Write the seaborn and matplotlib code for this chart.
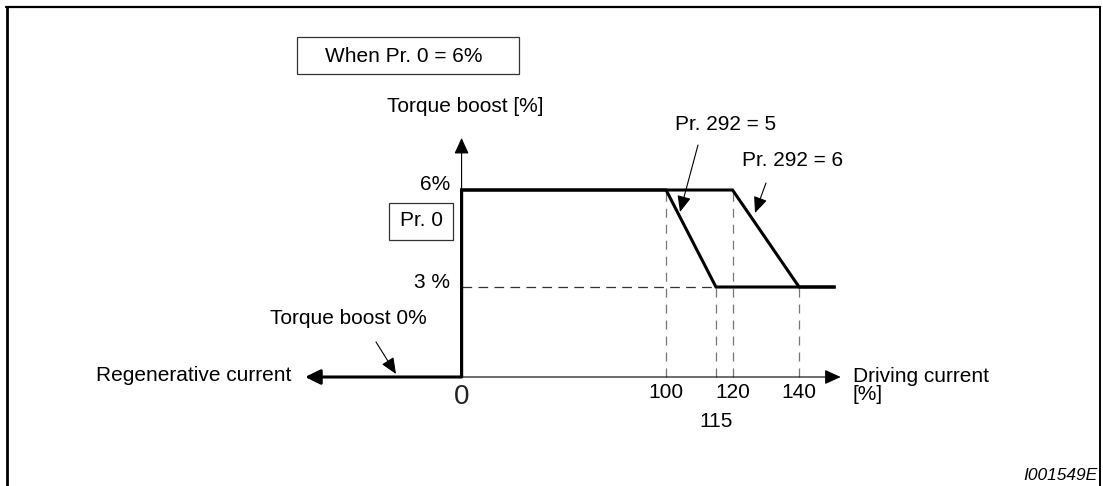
import numpy as np
import pandas as pd
import matplotlib
matplotlib.use("Agg")
import matplotlib.pyplot as plt
import seaborn as sns
from matplotlib.lines import Line2D
from matplotlib.patches import Rectangle

# Torque boost curves (driving current %, torque boost %)
pr292_5_current = [0, 0, 100, 115, 151]
pr292_5_boost = [0, 6, 6, 3, 3]
pr292_6_current = [0, 0, 120, 140, 151]
pr292_6_boost = [0, 6, 6, 3, 3]

# axis ticks / levels
x_ticks = [100, 120, 140]
x_ticks_low = [115]
y_levels = [6, 3]
y_level_labels = ["6%", "3 %"]

W, H = 1103, 486

sns.set_style("white")
plt.rcParams["font.family"] = ["Liberation Sans", "DejaVu Sans"]
plt.rcParams["text.color"] = "black"
plt.rcParams["lines.scale_dashes"] = False


# schematic current axis: 0..100 is squeezed, 100..140 is stretched
def fwd(x):
    x = np.asarray(x, dtype=float)
    return np.where(x < 100, x * 2.045, 204.5 + (x - 100) * 3.325)


def inv(t):
    t = np.asarray(t, dtype=float)
    return np.where(t < 204.5, t / 2.045, 100 + (t - 204.5) / 3.325)


# schematic boost axis
def fwd_y(y):
    y = np.asarray(y, dtype=float)
    return np.where(y < 3, y * 30, 90 + (y - 3) * 32.33)


def inv_y(t):
    t = np.asarray(t, dtype=float)
    return np.where(t < 90, t / 30, 3 + (t - 90) / 32.33)


def fig_xy(x, y):
    # pixel position measured from top-left -> figure fraction
    return x / W, 1 - y / H


df = pd.concat([
    pd.DataFrame({"current": pr292_5_current, "boost": pr292_5_boost, "setting": "Pr. 292 = 5"}),
    pd.DataFrame({"current": pr292_6_current, "boost": pr292_6_boost, "setting": "Pr. 292 = 6"}),
])

fig = plt.figure(figsize=(W / 100, H / 100), dpi=100)
ax = fig.add_axes([0, 0, 1, 1])
ax.set_xscale("function", functions=(fwd, inv))
ax.set_yscale("function", functions=(fwd_y, inv_y))
ax.set_xlim(-225.7, 231.4)
ax.set_ylim(-3.633, 11.877)
ax.axis("off")

# outer frame (open at the bottom)
for xs, ys, lw in [([7, 7], [486, 7], 2.0), ([6, 1100], [7, 7], 1.6), ([1100, 1100], [7, 486], 1.4)]:
    fig.add_artist(Line2D([x / W for x in xs], [1 - y / H for y in ys],
                          transform=fig.transFigure, color="black", lw=lw))

# axes with arrow heads
arrow_thin = dict(arrowstyle="-|>,head_length=0.7,head_width=0.32", color="black",
                  lw=0.8, shrinkA=0, shrinkB=0, mutation_scale=14)
ax.annotate("", xy=(152.5, 0), xytext=(0, 0), arrowprops=arrow_thin)
ax.annotate("", xy=(0, 7.61), xytext=(0, 0), arrowprops=arrow_thin)

# dashed guides from the break points
ax.vlines([pr292_5_current[2], pr292_6_current[2]], 0, [pr292_5_boost[2], pr292_6_boost[2]],
          colors="#777777", lw=0.9, linestyles=(0, (6.5, 5)))
ax.vlines([pr292_5_current[3], pr292_6_current[3]], 0, [pr292_5_boost[3], pr292_6_boost[3]],
          colors="#777777", lw=0.9, linestyles=(0, (6.5, 5)))
ax.hlines(pr292_5_boost[3], 0, pr292_5_current[3], colors="#333333", lw=0.9,
          linestyles=(0, (7, 4.5)))

# the boost curves
sns.lineplot(data=df, x="current", y="boost", hue="setting", palette=["black", "black"],
             sort=False, estimator=None, legend=False, lw=2.2, ax=ax,
             solid_joinstyle="miter", solid_capstyle="butt")

# regenerative side: torque boost 0 %
ax.annotate("", xy=(-76.5, 0), xytext=(0, 0),
            arrowprops=dict(arrowstyle="-|>,head_length=0.65,head_width=0.32", color="black",
                            lw=2.2, shrinkA=0, shrinkB=0, mutation_scale=14))

fs = 15
# tick labels
for v in x_ticks:
    ax.text(v, -0.5, str(v), ha="center", va="center", fontsize=fs)
for v in x_ticks_low:
    ax.text(v, -1.467, str(v), ha="center", va="center", fontsize=fs)
ax.text(0, -0.667, "0", ha="center", va="center", fontsize=20, color="#222222")
for lvl, lab, dy in zip(y_levels, y_level_labels, [0.155, 0.124]):
    ax.text(-5.6, lvl + dy, lab, ha="right", va="center", fontsize=fs)

# labels
fig.add_artist(Rectangle(fig_xy(297, 74), 222 / W, 37 / H, transform=fig.transFigure,
                         fill=False, ec="#333333", lw=0.9))
fig.text(*fig_xy(404, 56), "When Pr. 0 = 6%", ha="center", va="center", fontsize=fs)
fig.add_artist(Rectangle(fig_xy(389, 240), 64 / W, 37 / H, transform=fig.transFigure,
                         fill=False, ec="#333333", lw=0.9))
fig.text(*fig_xy(421, 221), "Pr. 0", ha="center", va="center", fontsize=fs)
fig.text(*fig_xy(465, 106), "Torque boost [%]", ha="center", va="center", fontsize=fs)
fig.text(*fig_xy(291, 375), "Regenerative current", ha="right", va="center", fontsize=fs)
fig.text(*fig_xy(853, 367), "Driving current\n[%]", ha="left", va="top", fontsize=fs,
         linespacing=0.9)
fig.text(*fig_xy(348, 318), "Torque boost 0%", ha="center", va="center", fontsize=fs)
fig.text(*fig_xy(726, 124), "Pr. 292 = 5", ha="center", va="center", fontsize=fs)
fig.text(*fig_xy(793, 160), "Pr. 292 = 6", ha="center", va="center", fontsize=fs)
fig.text(*fig_xy(1098, 475), "I001549E", ha="right", va="center", fontsize=12.5,
         style="italic")

# pointer arrows
pointer = dict(arrowstyle="-|>,head_length=0.7,head_width=0.3", color="black", lw=0.8,
               shrinkA=0, shrinkB=0, mutation_scale=14)
for (x0, y0), (x1, y1) in [((698, 145), (680, 212)), ((766, 183), (755, 213)),
                           ((376, 342), (396, 374))]:
    ax.annotate("", xy=(x1, H - y1), xytext=(x0, H - y0), xycoords="figure pixels",
                textcoords="figure pixels", arrowprops=pointer)

fig.savefig("out.png", dpi=100)
